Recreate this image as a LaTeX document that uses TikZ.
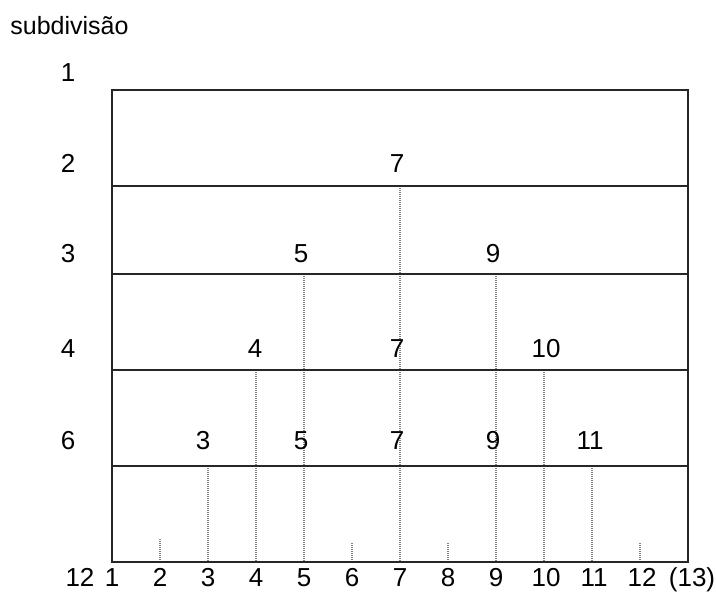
\documentclass[tikz,border=0pt]{standalone}
\usepackage{fontspec}
\setmainfont{Liberation Sans}
\begin{document}
\begin{tikzpicture}[x=0.5pt,y=-0.5pt,
  lbl/.style={inner sep=0pt, font=\fontsize{13}{15}\selectfont, anchor=base, yshift=-4.6pt},
  frame/.style={line width=1pt, draw=black!85},
  dots/.style={line width=0.55pt, draw=black!50, dash pattern=on 0.5pt off 0.5pt}]
\useasboundingbox (0,0) rectangle (716,592);
% title
\node[inner sep=0pt, font=\fontsize{12.5}{15}\selectfont, anchor=base west] (title) at (10,35) {subdivisão};
% bottom tick coordinates
\foreach \k in {1,...,13} { \coordinate (t\k) at ({112+48*(\k-1)},562); }
% dotted verticals
\foreach \k/\yt in {7/186,5/274,9/274,4/370,10/370,3/466,11/466,2/537,6/541,8/541,12/541} {
  \coordinate (dt\k-\yt) at ({112+48*(\k-1)},\yt+2);
  \draw[dots] (dt\k-\yt) -- (t\k);
}
% frame
\coordinate (tl) at (112,90);
\coordinate (tr) at (688,90);
\draw[frame] (tl) -- (tr) -- (t13) -- (t1) -- cycle;
% horizontal lines
\foreach \y [count=\i] in {186,274,370,466} {
  \coordinate (hl\i) at (112,\y);
  \coordinate (hr\i) at (688,\y);
  \draw[frame] (hl\i) -- (hr\i);
}
% row labels
\node[lbl] (r1) at (68,72) {1};
\node[lbl] (r2) at (68,163) {2};
\node[lbl] (r3) at (68,253) {3};
\node[lbl] (r4) at (68,348) {4};
\node[lbl] (r6) at (68,440) {6};
\node[lbl] (r12) at (80,577) {12};
% inner labels
\node[lbl] (a7) at (397,163) {7};
\node[lbl] (b5) at (301,253) {5};
\node[lbl] (b9) at (493,253) {9};
\node[lbl] (c4) at (255,348) {4};
\node[lbl] (c7) at (397,348) {7};
\node[lbl] (c10) at (546,348) {10};
\node[lbl] (d3) at (203,440) {3};
\node[lbl] (d5) at (301,440) {5};
\node[lbl] (d7) at (397,440) {7};
\node[lbl] (d9) at (493,440) {9};
\node[lbl] (d11) at (590,440) {11};
% axis labels
\foreach \k in {1,...,9} { \node[lbl] (x\k) at ({112+48*(\k-1)},577) {\k}; }
\foreach \k in {10,11,12} { \node[lbl] (x\k) at ({114+48*(\k-1)},577) {\k}; }
\node[lbl] (x13) at (692,577) {(13)};
\end{tikzpicture}
\end{document}
